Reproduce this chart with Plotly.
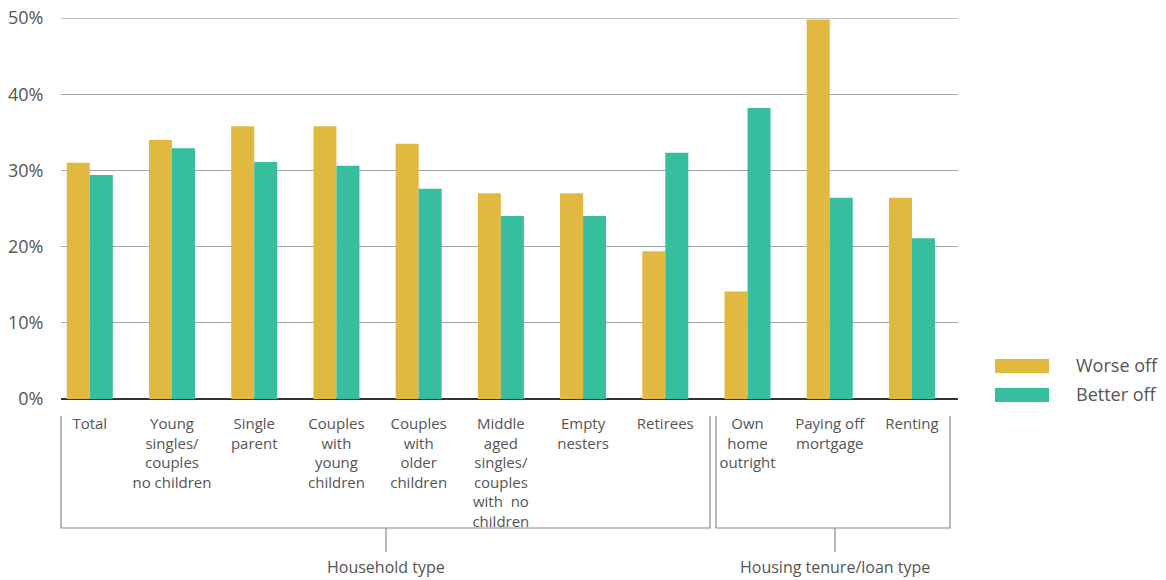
import plotly.graph_objects as go

categories = ["Total", "Young singles/couples no children", "Single parent",
              "Couples with young children", "Couples with older children",
              "Middle aged singles/couples with no children", "Empty nesters",
              "Retirees", "Own home outright", "Paying off mortgage", "Renting"]
tick_labels = ["Total", "Young<br>singles/<br>couples<br>no children", "Single<br>parent",
               "Couples<br>with<br>young<br>children", "Couples<br>with<br>older<br>children",
               "Middle<br>aged<br>singles/<br>couples<br>with  no<br>children", "Empty<br>nesters",
               "Retirees", "Own<br>home<br>outright", "Paying off<br>mortgage", "Renting"]
worse_off = [31.0, 34.0, 35.8, 35.8, 33.5, 27.0, 27.0, 19.4, 14.1, 49.8, 26.4]
better_off = [29.4, 32.9, 31.1, 30.6, 27.6, 24.0, 24.0, 32.3, 38.2, 26.4, 21.1]
y_ticks = [0, 10, 20, 30, 40, 50]
y_tick_labels = ["0%", "10%", "20%", "30%", "40%", "50%"]
group_names = ["Household type", "Housing tenure/loan type"]

WORSE = "#E1B940"
BETTER = "#36BE9F"
FONT = "Open Sans"
TXT = "#555555"
W, H = 1166, 580
L, R, T, B = 61, 208, 18, 181

fig = go.Figure()
fig.add_trace(go.Bar(x=categories, y=worse_off, name="Worse off", marker_color=WORSE,
                     marker_line_width=0))
fig.add_trace(go.Bar(x=categories, y=better_off, name="Better off", marker_color=BETTER,
                     marker_line_width=0))

pw = W - L - R
ph = H - T - B


def px(xp):
    return (xp - L) / pw


def py(yp):
    return (H - B - yp) / ph


BR_Y = 528
line = dict(color="#8a8a8a", width=1.2)
shapes = []
for x0, x1, xt in [(61, 710, 386), (716, 950, 835)]:
    shapes.append(dict(type="path", xref="paper", yref="paper",
                       path=f"M {px(x0)} {py(416)} L {px(x0)} {py(BR_Y)} L {px(x1)} {py(BR_Y)} L {px(x1)} {py(416)}",
                       line=line))
    shapes.append(dict(type="line", xref="paper", yref="paper",
                       x0=px(xt), x1=px(xt), y0=py(BR_Y), y1=py(552), line=line))
# top gridline (50%) drawn at plot edge
shapes.append(dict(type="line", xref="paper", yref="y", x0=0, x1=1, y0=y_ticks[-1], y1=y_ticks[-1],
                   line=dict(color="#b0b0b0", width=1.5), layer="below"))
# legend swatches
shapes.append(dict(type="rect", xref="paper", yref="paper", x0=px(995), x1=px(1049),
                   y0=py(373), y1=py(359), fillcolor=WORSE, line_width=0))
shapes.append(dict(type="rect", xref="paper", yref="paper", x0=px(995), x1=px(1049),
                   y0=py(402), y1=py(388), fillcolor=BETTER, line_width=0))

annotations = [
    dict(text=group_names[0], x=px(386), y=py(579), xref="paper", yref="paper",
         showarrow=False, xanchor="center", yanchor="bottom", borderpad=0,
         font=dict(family=FONT, size=16, color=TXT)),
    dict(text=group_names[1], x=px(835), y=py(579), xref="paper", yref="paper",
         showarrow=False, xanchor="center", yanchor="bottom", borderpad=0,
         font=dict(family=FONT, size=16, color=TXT)),
    dict(text="Worse off", x=px(1074), y=py(365), xref="paper", yref="paper",
         showarrow=False, xanchor="left", yanchor="middle",
         font=dict(family=FONT, size=18, color=TXT)),
    dict(text="Better off", x=px(1074), y=py(394), xref="paper", yref="paper",
         showarrow=False, xanchor="left", yanchor="middle",
         font=dict(family=FONT, size=18, color=TXT)),
]

fig.update_layout(
    width=W, height=H,
    margin=dict(l=L, r=R, t=T, b=B, pad=0, autoexpand=False),
    paper_bgcolor="white", plot_bgcolor="white",
    barmode="group", bargap=0.44, bargroupgap=0,
    showlegend=False,
    shapes=shapes, annotations=annotations,
    font=dict(family=FONT, color=TXT),
)
fig.update_xaxes(type="category", range=[-0.35, 10.56], tickmode="array",
                 tickvals=categories, ticktext=tick_labels,
                 tickfont=dict(family=FONT, size=15, color=TXT), automargin=False,
                 ticks="outside", ticklen=11, tickcolor="rgba(0,0,0,0)",
                 showgrid=False, showline=False, zeroline=False)
fig.update_yaxes(range=[0, 50], tickmode="array", tickvals=y_ticks, ticktext=y_tick_labels,
                 tickfont=dict(family=FONT, size=18, color=TXT), automargin=False,
                 showgrid=True, gridcolor="#a6a6a6", gridwidth=1,
                 zeroline=True, zerolinecolor="#333333", zerolinewidth=2,
                 showline=False, ticks="outside", ticklen=13, tickcolor="rgba(0,0,0,0)")

fig.write_html("out.html", config={"displayModeBar": False},
               post_script="document.body.style.margin='0';document.body.style.overflow='hidden';")
